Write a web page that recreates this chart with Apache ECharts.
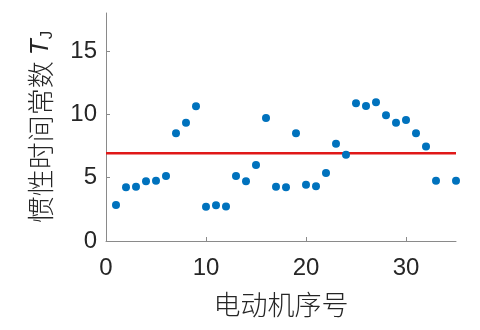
<!DOCTYPE html>
<html><head><meta charset="utf-8">
<script src="https://cdn.jsdelivr.net/npm/echarts@6/dist/echarts.min.js"></script>
<style>html,body{margin:0;padding:0;background:#fff}#c{width:480px;height:330px}</style>
</head><body><div id="c"></div>
<script>
const motorIds = [1,2,3,4,5,6,7,8,9,10,11,12,13,14,15,16,17,18,19,20,21,22,23,24,25,26,27,28,29,30,31,32,33,35];
const inertiaTJ = [2.84,4.24,4.29,4.71,4.76,5.13,8.50,9.34,10.63,2.71,2.82,2.72,5.13,4.71,6.00,9.71,4.29,4.24,8.50,4.45,4.32,5.37,7.68,6.81,10.87,10.66,10.95,9.92,9.34,9.55,8.50,7.47,4.76,4.76];
const meanLineX = [0,35];
const meanValue = 6.93;
const xTicks = [0,10,20,30];
const yTicks = [0,5,10,15];

const pts = motorIds.map((x,i)=>[x, inertiaTJ[i]]);
const linePts = meanLineX.map(x=>[x, meanValue]);
const txt = '#262626', ax = '#8a8a8a';
const font = '"Liberation Sans", Arial, "Noto Sans CJK SC", sans-serif';
const cjk = '"Noto Sans CJK SC", sans-serif';
const chart = echarts.init(document.getElementById('c'), null, {renderer:'canvas'});
chart.setOption({
  animation:false,
  grid:{left:106,right:24,top:13,bottom:89,containLabel:false},
  xAxis:{type:'value',min:0,max:35,
    name:'电动机序号',nameLocation:'middle',nameGap:50,
    nameTextStyle:{fontSize:27,color:txt,fontFamily:cjk,fontWeight:300},
    axisLine:{lineStyle:{color:ax,width:1}},
    axisTick:{inside:true,length:4,customValues:xTicks,lineStyle:{color:ax}},
    axisLabel:{customValues:xTicks,fontSize:24,color:txt,fontFamily:font,margin:15},
    splitLine:{show:false}},
  yAxis:{type:'value',min:0,max:18,
    name:'惯性时间常数 {t|T}{s|J}',nameLocation:'middle',nameGap:50,nameRotate:90,
    nameTextStyle:{fontSize:27,color:txt,fontFamily:cjk,fontWeight:300,lineHeight:30,
      rich:{t:{fontSize:26,fontStyle:'italic',fontFamily:font,color:txt,lineHeight:30},
            s:{fontSize:17,fontFamily:font,color:txt,lineHeight:17,verticalAlign:'bottom'}}},
    axisLine:{show:true,lineStyle:{color:ax,width:1}},
    axisTick:{show:true,inside:true,length:4,customValues:yTicks,lineStyle:{color:ax}},
    axisLabel:{customValues:yTicks,fontSize:24,color:txt,fontFamily:font,margin:9},
    splitLine:{show:false}},
  series:[
    {type:'line',data:linePts,symbol:'none',lineStyle:{color:'#e01818',width:2.5},z:1},
    {type:'scatter',data:pts,symbol:'circle',symbolSize:8,itemStyle:{color:'#0072BD',opacity:1},z:2}
  ]
});
</script></body></html>
